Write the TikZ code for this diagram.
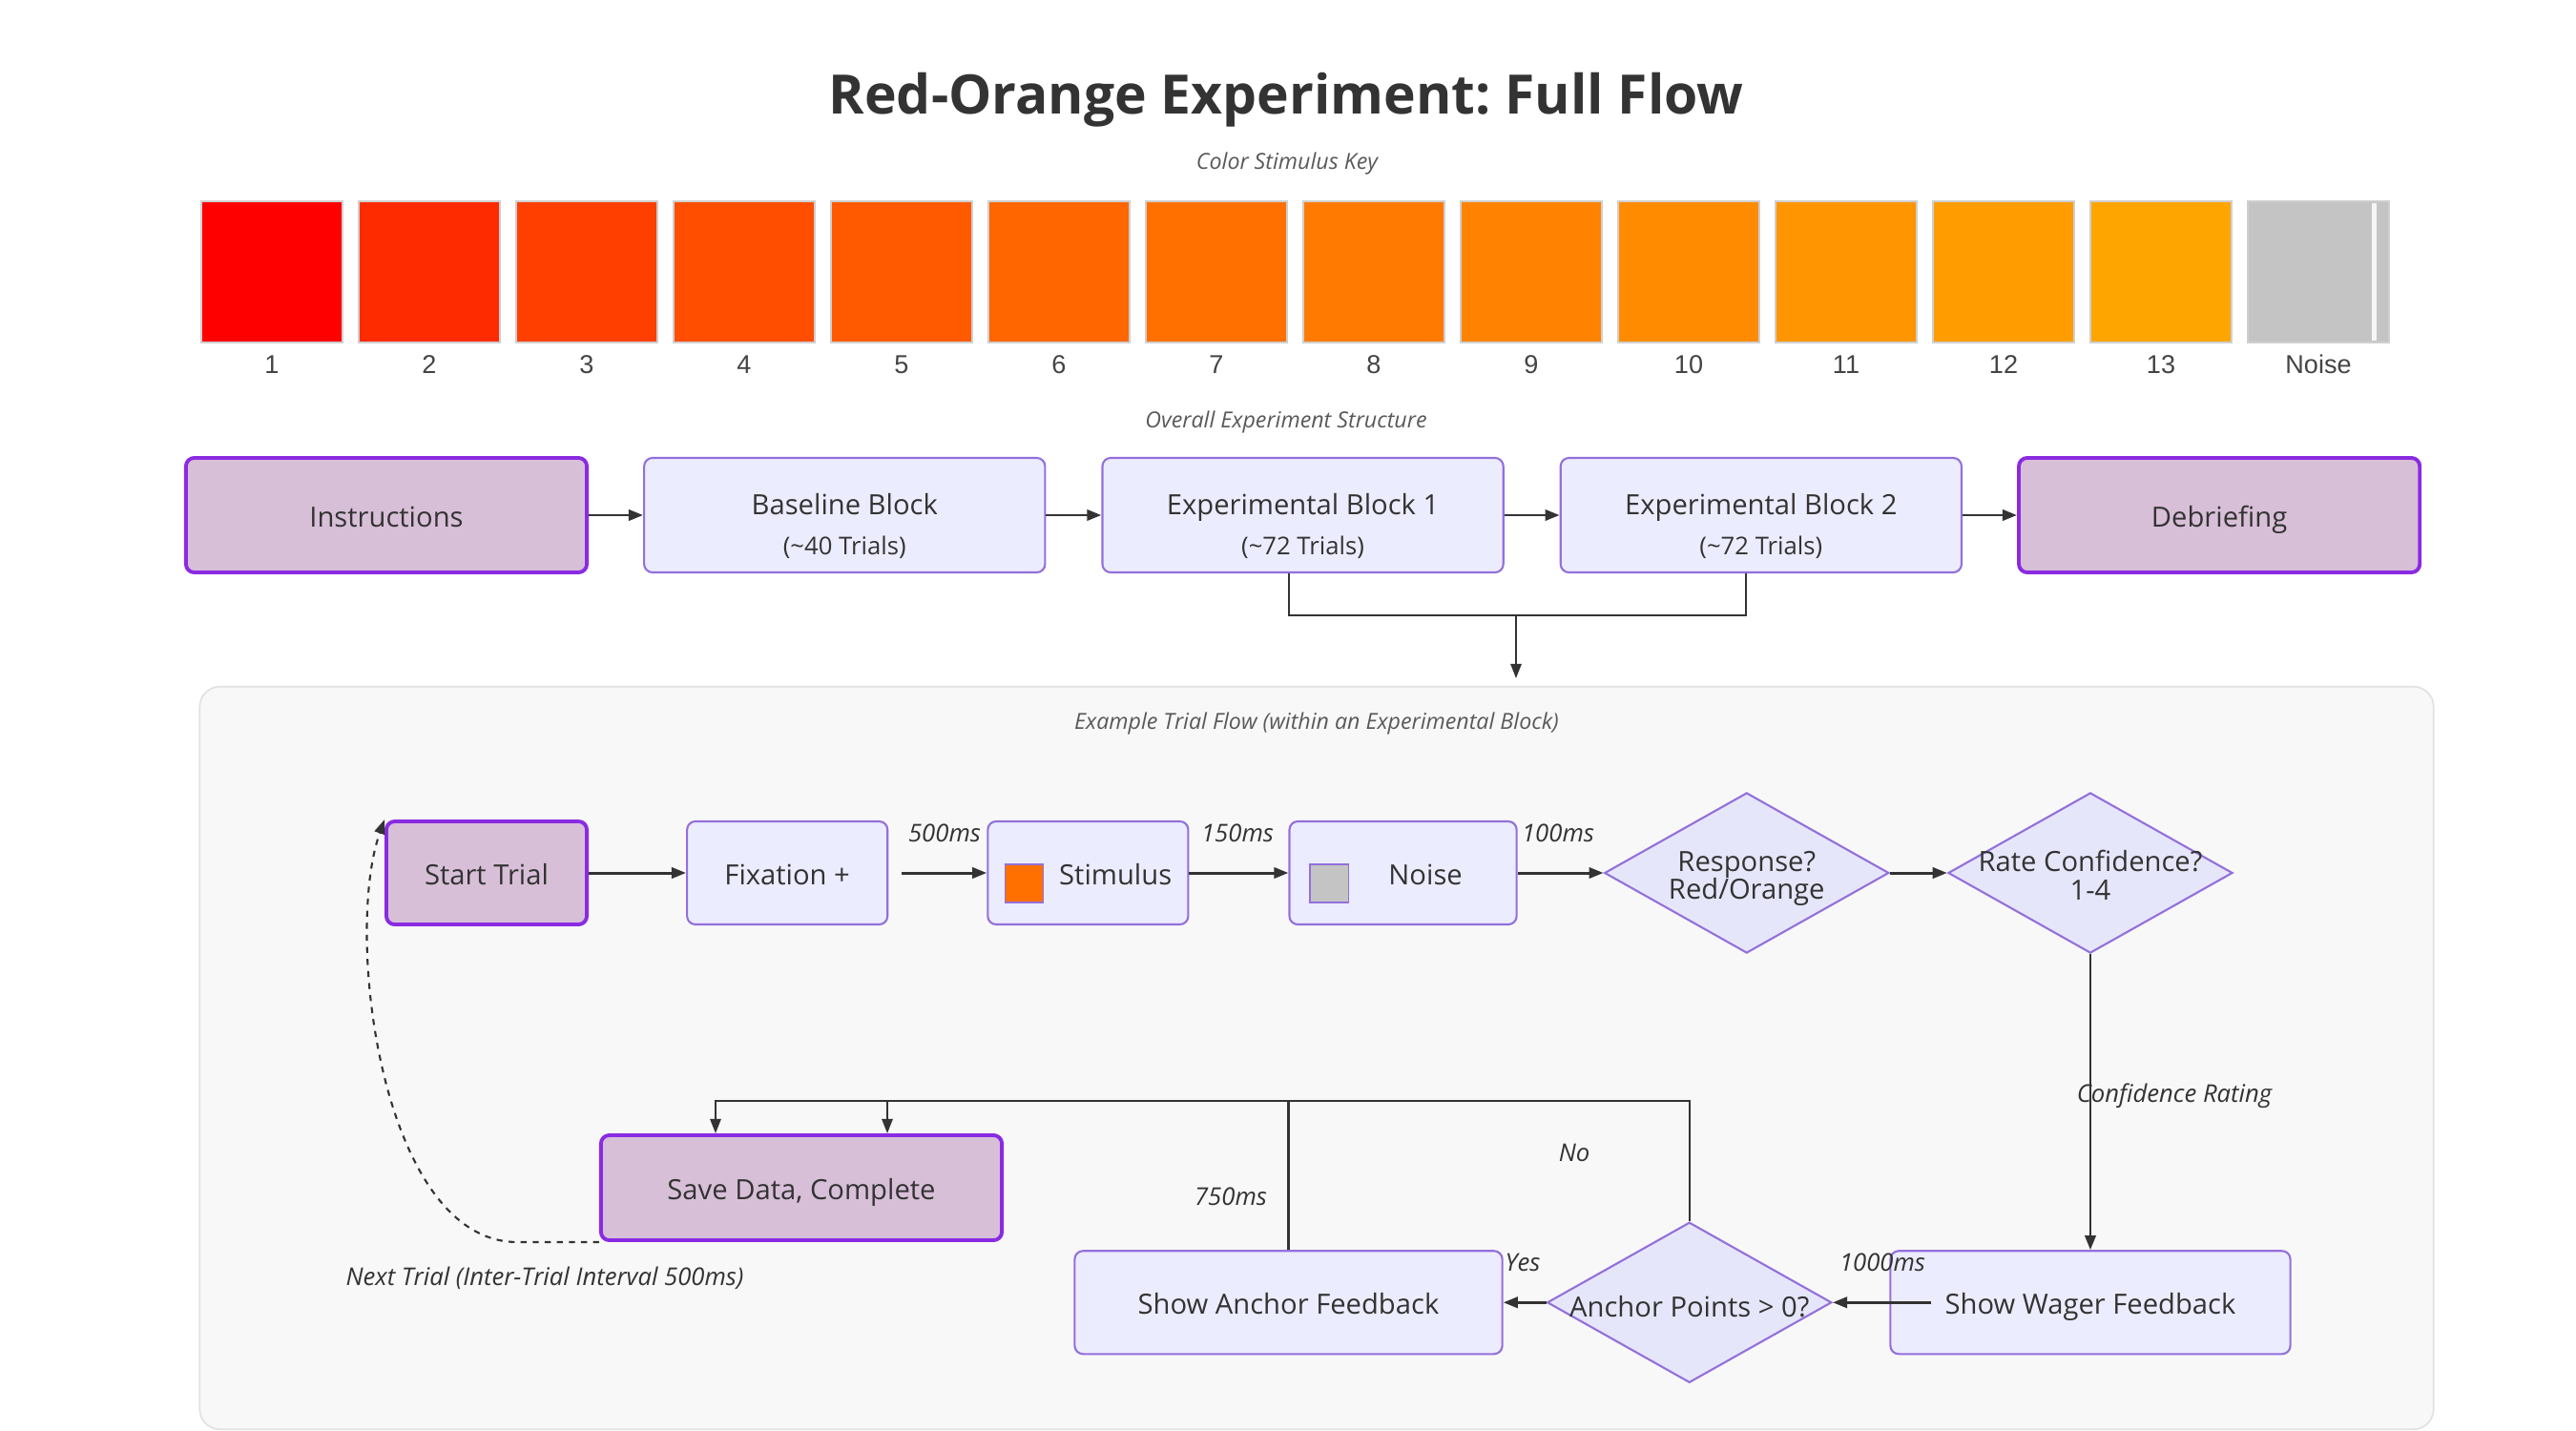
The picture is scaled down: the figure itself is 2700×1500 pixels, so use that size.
\documentclass[tikz,border=0pt]{standalone}
\usepackage{fontspec}
\setmainfont{Open Sans}
\newfontfamily\keyfont{Liberation Sans}
\usetikzlibrary{arrows.meta,positioning,shapes.geometric,calc}
\frenchspacing

\definecolor{ink}{HTML}{333333}
\definecolor{capgray}{HTML}{595959}
\definecolor{keygray}{HTML}{444444}
\definecolor{boxfill}{HTML}{ECECFF}
\definecolor{boxline}{HTML}{9370DB}
\definecolor{termfill}{HTML}{D8BFD8}
\definecolor{termline}{HTML}{8A2BE2}
\definecolor{decfill}{HTML}{E6E6FA}
\definecolor{clusterfill}{HTML}{F8F8F8}
\definecolor{clusterline}{HTML}{E2E2E2}
\definecolor{swatchline}{HTML}{CFCFCF}
\definecolor{noisegray}{HTML}{C4C4C4}
\definecolor{stimorange}{RGB}{255,112,0}

\newcommand{\flowhead}{\fontsize{16.2}{19}\selectfont\bfseries}
\newcommand{\flowbody}{\fontsize{8.3}{12.2}\selectfont}
\newcommand{\flowsub}{\fontsize{7.3}{12.2}\selectfont}
\newcommand{\flowdec}{\fontsize{8.3}{8.5}\selectfont}
\newcommand{\flowlbl}{\fontsize{7.3}{9}\selectfont\itshape}
\newcommand{\flowcap}{\fontsize{6.6}{8}\selectfont\itshape}
\newcommand{\flowkey}{\keyfont\fontsize{7.7}{9}\selectfont}
\newcommand{\cuebox}[1]{\raisebox{-5.1pt}{\setlength{\fboxsep}{0pt}\setlength{\fboxrule}{0.45pt}\fcolorbox{boxline}{#1}{\rule{11pt}{0pt}\rule{0pt}{11pt}}}}

\tikzstyle{stage} = [rectangle,rounded corners=2.5pt,font=\flowbody,text=ink,minimum width=4.2cm,minimum height=1.2cm]
\tikzstyle{block} = [stage,draw=boxline,fill=boxfill,line width=0.6pt]
\tikzstyle{term} = [stage,draw=termline,fill=termfill,line width=1.1pt,text height=9pt,text depth=2pt]
\tikzstyle{trialbox} = [block,minimum width=2.1cm,minimum height=1.08cm,text height=9pt,text depth=2pt]
\tikzstyle{trialterm} = [term,minimum width=2.1cm,minimum height=1.08cm]
\tikzstyle{decision} = [diamond,draw=boxline,fill=decfill,line width=0.6pt,minimum width=2.98cm,minimum height=1.68cm,inner sep=0pt]
\tikzstyle{dectext} = [font=\flowdec,text=ink,align=center,inner sep=0pt]
\tikzstyle{swatch} = [rectangle,draw=swatchline,line width=0.7pt,minimum size=1.48cm,inner sep=0pt]
\tikzstyle{keylabel} = [anchor=base,font=\flowkey,text=keygray,inner sep=0pt]
\tikzstyle{heading} = [anchor=base,font=\flowhead,text=ink,inner sep=0pt]
\tikzstyle{caption} = [anchor=base,font=\flowcap,text=capgray,inner sep=0pt]
\tikzstyle{edgelabel} = [anchor=base,font=\flowlbl,text=ink,inner sep=0pt]
\tikzstyle{cluster} = [rectangle,draw=clusterline,fill=clusterfill,line width=0.5pt,rounded corners=6pt,minimum width=23.4cm,minimum height=7.78cm]
\tikzstyle{flow} = [draw=ink,line width=0.85pt,-{Triangle[length=4.3pt,width=3.2pt]}]
\tikzstyle{link} = [draw=ink,line width=0.6pt]
\tikzstyle{linkarrow} = [link,-{Triangle[length=4.3pt,width=3.2pt]}]
\tikzstyle{loopback} = [draw=ink,line width=0.6pt,dash pattern=on 1.8pt off 1.8pt,-{Triangle[length=4.3pt,width=3.2pt]}]

\begin{document}
\begin{tikzpicture}[x=0.01cm,y=-0.01cm,node distance=4.8cm]
	\fill[white] (0,0) rectangle (2700,1500);
	\useasboundingbox (0,0) rectangle (2700,1500);

	\node (title) [heading] at (1348,120) {Red-Orange Experiment: Full Flow};
	\node (keycap) [caption] at (1349,178) {Color Stimulus Key};
	\foreach \g [count=\i] in {0,43,63,78,90,102,112,122,131,140,149,157,165} {
		\definecolor{hue\i}{RGB}{255,\g,0}
		\node (sw\i) [swatch,fill=hue\i] at ({285+165*(\i-1)},285) {};
		\node (swl\i) [keylabel] at ($(sw\i.south)+(0,31)$) {\i};
	}
	\node (sw14) [swatch,fill=noisegray] at (2430,285) {};
	\draw [draw=white!85!noisegray,line width=1.4pt] ($(sw14.north east)+(-17,3)$) -- ($(sw14.south east)+(-17,-3)$);
	\node (swl14) [keylabel] at ($(sw14.south)+(0,31)$) {Noise};

	\node (structcap) [caption] at (1348,448) {Overall Experiment Structure};
	\node (instr) [term] at (405,540) {Instructions};
	\node (base) [block,align=center,right of=instr] {\rule{0pt}{12.8pt}Baseline Block\\{\flowsub (\textasciitilde40 Trials)}};
	\node (exp1) [block,align=center,right of=base] {\rule{0pt}{12.8pt}Experimental Block 1\\{\flowsub (\textasciitilde72 Trials)}};
	\node (exp2) [block,align=center,right of=exp1] {\rule{0pt}{12.8pt}Experimental Block 2\\{\flowsub (\textasciitilde72 Trials)}};
	\node (debrief) [term,right of=exp2] {Debriefing};
	\draw [flow] (instr) -- (base);
	\draw [flow] (base) -- (exp1);
	\draw [flow] (exp1) -- (exp2);
	\draw [flow] (exp2) -- (debrief);

	\node (trialflow) [cluster] at (1380,1109) {};
	\node (trialcap) [caption] at (1380,764) {Example Trial Flow (within an Experimental Block)};
	\coordinate (merge) at (1589,645);
	\coordinate (into) at (1589,711);
	\draw [link] ($(exp1.south)+(-15,0)$) |- (merge);
	\draw [link] ($(exp2.south)+(-16,0)$) |- (merge);
	\draw [linkarrow] (merge) -- (into);

	\node (start) [trialterm] at (510,915) {Start Trial};
	\node (fix) [trialbox,node distance=3.15cm,right of=start] {Fixation +};
	\node (stim) [trialbox,node distance=3.15cm,right of=fix] {\cuebox{stimorange}\hspace*{4.5pt}Stimulus};
	\node (noise) [trialbox,minimum width=2.38cm,node distance=3.3cm,right of=stim] {\cuebox{noisegray}\hspace*{11.7pt}Noise\hspace*{10.2pt}};
	\node (resp) [decision,node distance=3.6cm,right of=noise,label={[dectext,yshift=-1.7pt]center:{Response?\\Red/Orange}}] {};
	\node (rate) [decision,node distance=3.6cm,right of=resp,label={[dectext,yshift=-0.6pt]center:{Rate Confidence?\\1-4}}] {};
	\node (wager) [trialbox,minimum width=4.19cm,node distance=4.5cm,below of=rate] {Show Wager Feedback};
	\node (anchorq) [decision,node distance=4.2cm,left of=wager,label={[dectext,yshift=-1.3pt]center:{Anchor Points > 0?}}] {};
	\node (anchorfb) [trialbox,minimum width=4.48cm,node distance=4.2cm,left of=anchorq] {Show Anchor Feedback};
	\node (save) [trialterm,minimum width=4.2cm,minimum height=1.1cm] at (840,1245) {Save Data, Complete};

	\draw [flow] (start) -- (fix);
	\draw [flow,shorten <=4pt] (fix) -- (stim);
	\draw [flow] (stim) -- (noise);
	\draw [flow] (noise) -- (resp);
	\draw [flow] (resp) -- (rate);
	\draw [flow] (rate) -- (wager);
	\draw [flow] ($(wager.west)+(44,0)$) -- (anchorq);
	\draw [flow] (anchorq) -- (anchorfb);
	\coordinate (bus) at (0,1154);
	\draw [linkarrow] (anchorq.north) -- (anchorq.north |- bus) -| ($(save.north)+(-90,0)$);
	\draw [linkarrow] (anchorfb.north) -- (anchorfb.north |- bus) -| ($(save.north)+(90,0)$);
	\draw [loopback] (save.south west) -- ++(-87,0) .. controls (400,1300) and (360,980) .. (start.north west);

	\node (l500) [edgelabel] at (990,882) {500ms};
	\node (l150) [edgelabel] at (1297,882) {150ms};
	\node (l100) [edgelabel] at (1633,882) {100ms};
	\node (lconf) [edgelabel] at (2279,1155) {Confidence Rating};
	\node (l1000) [edgelabel] at (1973,1332) {1000ms};
	\node (lyes) [edgelabel] at (1596,1332) {Yes};
	\node (lno) [edgelabel] at (1650,1217) {No};
	\node (l750) [edgelabel] at (1290,1263) {750ms};
	\node (lnext) [edgelabel] at (571,1347) {Next Trial (Inter-Trial Interval 500ms)};
\end{tikzpicture}
\end{document}
